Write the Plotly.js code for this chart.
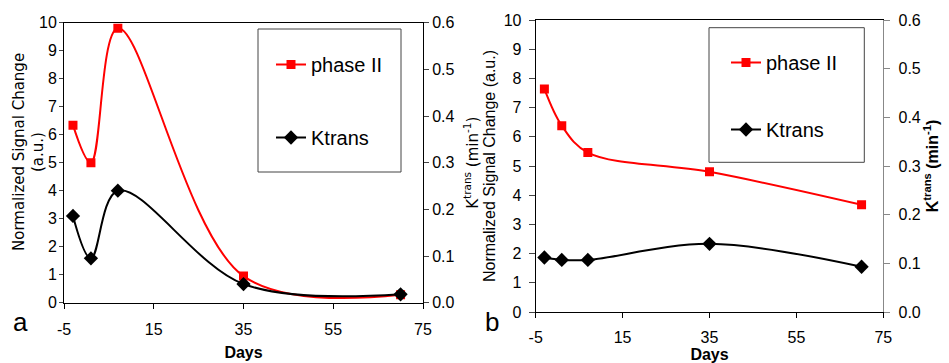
<!DOCTYPE html>
<html>
<head>
<meta charset="utf-8">
<script src="https://cdn.plot.ly/plotly-3.0.1.min.js"></script>
<style>html,body{margin:0;padding:0;background:#fff;}#chart{width:949px;height:363px;}</style>
</head>
<body>
<div id="chart"></div>
<script>
// Panel a data
var daysA = [-3, 1, 7, 35, 70];
var phaseA = [6.34, 5.0, 9.8, 0.95, 0.28];
var ktransA = [0.186, 0.095, 0.24, 0.040, 0.018];
// Panel b data
var daysB = [-3, 1, 7, 35, 70];
var phaseB = [7.64, 6.38, 5.46, 4.8, 3.67];
var ktransB = [0.112, 0.107, 0.107, 0.140, 0.093];
var xTicks = [-5, 15, 35, 55, 75];
var seriesNames = ['phase II', 'Ktrans'];

var FONT = 'Liberation Sans, Arial, sans-serif';
var W = 949, H = 363;
function px(x){ return x / W; }
function py(y){ return 1 - y / H; }

var red = '#ff0000', black = '#000000';

var traces = [
  {x: daysA, y: phaseA, xaxis: 'x', yaxis: 'y', name: seriesNames[0], mode: 'lines+markers',
   line: {color: red, width: 2, shape: 'spline', smoothing: 1}, marker: {symbol: 'square', size: 9, color: red},
   legend: 'legend', legendgroup: 'a1'},
  {x: daysA, y: ktransA, xaxis: 'x', yaxis: 'y2', name: seriesNames[1], mode: 'lines+markers',
   line: {color: black, width: 2, shape: 'spline', smoothing: 1}, marker: {symbol: 'diamond', size: 11, color: black},
   legend: 'legend', legendgroup: 'a2'},
  {x: daysB, y: phaseB, xaxis: 'x2', yaxis: 'y3', name: seriesNames[0], mode: 'lines+markers',
   line: {color: red, width: 2, shape: 'spline', smoothing: 1}, marker: {symbol: 'square', size: 9, color: red},
   legend: 'legend2', legendgroup: 'b1'},
  {x: daysB, y: ktransB, xaxis: 'x2', yaxis: 'y4', name: seriesNames[1], mode: 'lines+markers',
   line: {color: black, width: 2, shape: 'spline', smoothing: 1}, marker: {symbol: 'diamond', size: 11, color: black},
   legend: 'legend2', legendgroup: 'b2'}
];

var tickFont = {family: FONT, size: 16, color: '#000'};
function xAxis(domain, anchor, standoff, tstand){
  return {domain: domain, anchor: anchor, range: [-5, 75], tickmode: 'array', tickvals: xTicks,
    ticktext: xTicks.map(String), ticks: 'outside', ticklen: 5, tickcolor: '#000',
    ticklabelstandoff: tstand,
    showline: true, linecolor: '#000', linewidth: 1, mirror: true, showgrid: false, zeroline: false,
    tickfont: tickFont, fixedrange: true,
    title: {text: '<b>Days</b>', font: {family: FONT, size: 16, color: '#000'}, standoff: standoff}};
}

var titleFontA = {family: 'DejaVu Sans, sans-serif', size: 15, color: '#000'};

var layout = {
  width: W, height: H,
  margin: {l: 0, r: 0, t: 0, b: 0},
  paper_bgcolor: '#fff', plot_bgcolor: 'rgba(0,0,0,0)',
  font: {family: FONT, color: '#000'},
  xaxis: xAxis([px(64), px(423)], 'y', 9, 7),
  yaxis: {domain: [py(302.7), py(22.7)], anchor: 'x', range: [0, 10], dtick: 1, tick0: 0,
    ticks: 'outside', ticklen: 4, ticklabelstandoff: -1, showline: true, linecolor: '#000', showgrid: false, zeroline: false,
    tickfont: tickFont},
  yaxis2: {overlaying: 'y', side: 'right', anchor: 'x', range: [0, 0.6], dtick: 0.1, tick0: 0, tickformat: '.1f',
    ticks: 'outside', ticklen: 5, showline: true, linecolor: '#000', showgrid: false, zeroline: false,
    tickfont: tickFont,
    title: {text: 'K<sup>trans</sup> (min<sup>-1</sup>)', font: titleFontA, standoff: 13}},
  xaxis2: xAxis([px(535.7), px(883.3)], 'y3', 6, 6),
  yaxis3: {domain: [py(312), py(20)], anchor: 'x2', range: [0, 10], dtick: 1, tick0: 0,
    ticks: 'outside', ticklen: 6, ticklabelstandoff: 4, showline: true, linecolor: '#000', showgrid: false, zeroline: false,
    tickfont: tickFont,
    title: {text: 'Normalized Signal Change (a.u.)', font: {family: FONT, size: 16, color: '#000'}, standoff: 4}},
  yaxis4: {overlaying: 'y3', side: 'right', anchor: 'x2', range: [0, 0.6], dtick: 0.1, tick0: 0, tickformat: '.1f',
    ticks: 'outside', ticklen: 6, ticklabelstandoff: 5, showline: true, linecolor: '#888', tickcolor: '#888', showgrid: false, zeroline: false,
    tickfont: tickFont,
    title: {text: '<b>K<sup>trans</sup> (min<sup>-1</sup>)</b>', font: {family: FONT, size: 16, color: '#000'}, standoff: 6}},
  legend: {x: px(271), y: py(45), xanchor: 'left', yanchor: 'top', bgcolor: 'rgba(0,0,0,0)', borderwidth: 0,
    font: {family: FONT, size: 20, color: '#000'}, tracegroupgap: 44, traceorder: 'grouped'},
  legend2: {x: px(726), y: py(43), xanchor: 'left', yanchor: 'top', bgcolor: 'rgba(0,0,0,0)', borderwidth: 0,
    font: {family: FONT, size: 20, color: '#000'}, tracegroupgap: 38, traceorder: 'grouped'},
  shapes: [
    {type: 'rect', xref: 'paper', yref: 'paper', x0: px(258), x1: px(401), y0: py(172), y1: py(29),
     line: {color: '#444', width: 1}, fillcolor: 'rgba(0,0,0,0)'},
    {type: 'rect', xref: 'paper', yref: 'paper', x0: px(709), x1: px(864.3), y0: py(162.3), y1: py(27.7),
     line: {color: '#444', width: 1}, fillcolor: 'rgba(0,0,0,0)'}
  ],
  annotations: [
    {text: 'Normalized Signal Change', textangle: -90, xref: 'paper', yref: 'paper',
     x: px(19), y: py(152), xanchor: 'center', yanchor: 'middle', showarrow: false, font: titleFontA},
    {text: '(a.u.)', textangle: -90, xref: 'paper', yref: 'paper',
     x: px(38), y: py(152), xanchor: 'center', yanchor: 'middle', showarrow: false, font: titleFontA},
    {text: 'a', xref: 'paper', yref: 'paper', x: px(20), y: py(322), xanchor: 'center', yanchor: 'middle',
     showarrow: false, font: {family: FONT, size: 26, color: '#000'}},
    {text: 'b', xref: 'paper', yref: 'paper', x: px(492), y: py(322), xanchor: 'center', yanchor: 'middle',
     showarrow: false, font: {family: FONT, size: 26, color: '#000'}}
  ]
};

Plotly.newPlot('chart', traces, layout, {staticPlot: true, displayModeBar: false});
</script>
</body>
</html>
